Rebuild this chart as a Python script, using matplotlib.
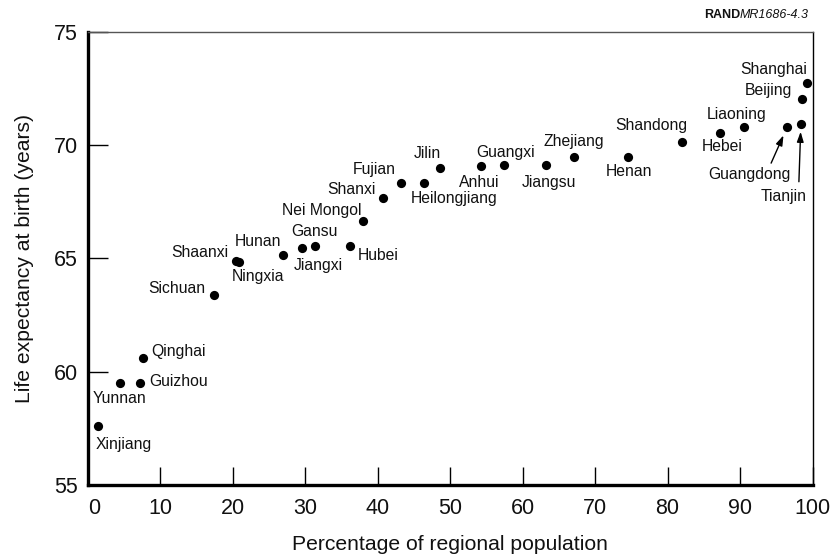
import matplotlib
matplotlib.use("Agg")
import matplotlib.pyplot as plt
from matplotlib.transforms import ScaledTranslation

plt.rcParams['font.family'] = ['Liberation Sans', 'DejaVu Sans']

# ---- data ----
provinces = ["Xinjiang", "Yunnan", "Guizhou", "Qinghai", "Sichuan", "Shaanxi",
             "Ningxia", "Hunan", "Jiangxi", "Gansu", "Hubei", "Nei Mongol",
             "Shanxi", "Fujian", "Heilongjiang", "Jilin", "Anhui", "Guangxi",
             "Jiangsu", "Zhejiang", "Henan", "Shandong", "Hebei", "Liaoning",
             "Guangdong", "Tianjin", "Beijing", "Shanghai"]
pct_regional_pop = [1.5, 4.5, 7.3, 7.7, 17.5, 20.5,
                    20.9, 27.0, 29.6, 31.4, 36.2, 38.0,
                    40.7, 43.2, 46.4, 48.6, 54.3, 57.5,
                    63.2, 67.1, 74.6, 82.0, 87.3, 90.6,
                    96.5, 98.4, 98.5, 99.3]
life_expectancy = [57.6, 59.5, 59.5, 60.6, 63.4, 64.9,
                   64.85, 65.15, 65.45, 65.55, 65.55, 66.65,
                   67.65, 68.35, 68.35, 69.0, 69.1, 69.15,
                   69.15, 69.5, 69.5, 70.15, 70.55, 70.8,
                   70.8, 70.95, 72.05, 72.75]
x_ticks = [0, 10, 20, 30, 40, 50, 60, 70, 80, 90, 100]
y_ticks = [55, 60, 65, 70, 75]

# ---- label placement (offset pixels, ha) ----
label_style = {
    "Xinjiang": (-3, -18, "left"), "Yunnan": (-1, -15, "center"),
    "Guizhou": (9, 2, "left"), "Qinghai": (8, 7, "left"),
    "Sichuan": (-9, 6, "right"), "Shaanxi": (-8, 8, "right"),
    "Ningxia": (-7, -15, "left"), "Hunan": (-2, 14, "right"),
    "Jiangxi": (-8, -17, "left"), "Gansu": (-1, 15, "center"),
    "Hubei": (8, -9, "left"), "Nei Mongol": (-2, 11, "right"),
    "Shanxi": (-7, 9, "right"), "Fujian": (-5, 13, "right"),
    "Heilongjiang": (-13, -16, "left"), "Jilin": (1, 14, "right"),
    "Anhui": (-2, -17, "center"), "Guangxi": (1, 12, "center"),
    "Jiangsu": (3, -18, "center"), "Zhejiang": (0, 15, "center"),
    "Henan": (1, -15, "center"), "Shandong": (5, 16, "right"),
    "Hebei": (2, -14, "center"), "Liaoning": (-8, 13, "center"),
    "Guangdong": (-38, -47, "center"), "Tianjin": (-17, -73, "center"),
    "Beijing": (-9, 8, "right"), "Shanghai": (0, 13, "right"),
}
# arrows: (tail offset px, shrink at head in px)
arrow_style = {
    "Guangdong": ((-16, -36), 9),
    "Tianjin": ((-2, -58), 8),
}

fig = plt.figure(figsize=(8.31, 5.58), dpi=100)
ax = fig.add_axes([87.5 / 831, 1 - 485 / 558, 725 / 831, 453 / 558])

ax.scatter(pct_regional_pop, life_expectancy, s=44, color="black",
           zorder=3, linewidths=0)

for name, x, y in zip(provinces, pct_regional_pop, life_expectancy):
    dx, dy, ha = label_style[name]
    ax.annotate(name, (x, y), xytext=(dx, dy), textcoords="offset pixels",
                ha=ha, va="center", fontsize=11.3, color="#111111")
    if name in arrow_style:
        (tx, ty), shr = arrow_style[name]
        ax.annotate("", (x, y), xytext=(tx, ty), textcoords="offset pixels",
                    arrowprops=dict(arrowstyle="-|>,head_length=0.6,head_width=0.2",
                                    color="black", lw=1.0, shrinkA=0,
                                    shrinkB=shr * 0.72))

ax.set_xlim(0, 100)
ax.set_ylim(55, 75)
ax.set_xticks(x_ticks)
ax.set_yticks(y_ticks)
ax.tick_params(axis="both", direction="in", labelsize=15.5, width=1.0,
               color="black", labelcolor="#111111")
ax.tick_params(axis="y", length=14.5, pad=7)
ax.tick_params(axis="x", length=13, pad=9)
ax.tick_params(top=False, right=False)

# first x tick label sits slightly right of its tick in the reference
lbl0 = ax.get_xticklabels()[0]
lbl0.set_transform(lbl0.get_transform() +
                   ScaledTranslation(7 / 100, 0, fig.dpi_scale_trans))

for side in ("left", "bottom"):
    ax.spines[side].set_linewidth(2.4)
    ax.spines[side].set_color("black")
ax.spines["top"].set_linewidth(1.0)
ax.spines["top"].set_color("#555555")
ax.spines["right"].set_linewidth(1.0)
ax.spines["right"].set_color("black")

ax.set_xlabel("Percentage of regional population", fontsize=15.2,
              color="#111111", labelpad=12)
ax.set_ylabel("Life expectancy at birth (years)", fontsize=15.2,
              color="#111111", labelpad=14)

# RAND tag
fig.canvas.draw()
t_it = fig.text(809 / 831, 1 - 15 / 558, "MR1686-4.3", fontsize=9,
                style="italic", ha="right", va="center", color="#111111")
fig.canvas.draw()
bb = t_it.get_window_extent()
fig.text(bb.x0 / 831, 1 - 15 / 558, "RAND", fontsize=9, fontweight="bold",
         ha="right", va="center", color="#111111")

fig.savefig("out.png", dpi=100)
